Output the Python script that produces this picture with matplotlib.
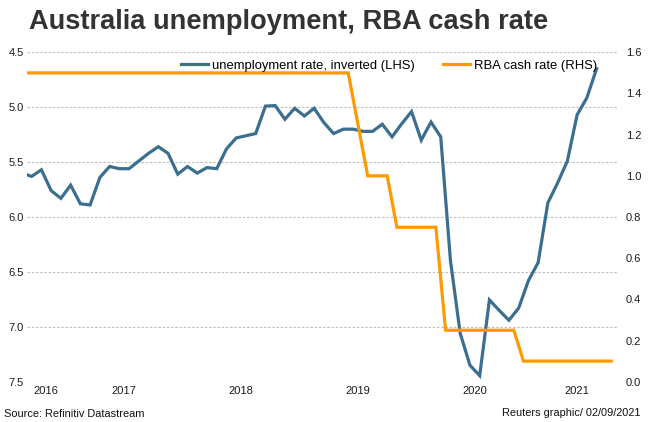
import numpy as np
import matplotlib
matplotlib.use("Agg")
import matplotlib.pyplot as plt

plt.rcParams['font.family'] = ['Liberation Sans', 'DejaVu Sans']

# Monthly data, Aug 2016 .. Aug 2021 (position -1 = Aug 2016, 0 = Sep 2016)
unemployment = [5.60, 5.63, 5.57, 5.76, 5.83,                          # 2016 Aug-Dec
                5.71, 5.88, 5.89, 5.64, 5.54, 5.56, 5.56, 5.49, 5.42, 5.36, 5.42, 5.61,  # 2017
                5.54, 5.60, 5.55, 5.56, 5.38, 5.28, 5.26, 5.24, 4.99, 4.985, 5.11, 5.01,  # 2018
                5.08, 5.01, 5.14, 5.24, 5.20, 5.20, 5.22, 5.22, 5.155, 5.27, 5.15, 5.04,  # 2019
                5.30, 5.135, 5.27, 6.40, 7.06, 7.35, 7.445, 6.755, 6.85, 6.94, 6.83, 6.58,  # 2020
                6.415, 5.87, 5.69, 5.49, 5.07, 4.915, 4.65]           # 2021 Jan-Jul
cash_rate = ([1.5] * 5 +            # 2016 Aug-Dec
             [1.5] * 12 +           # 2017
             [1.5] * 12 +           # 2018
             [1.5, 1.5, 1.5, 1.5, 1.5, 1.25, 1.0, 1.0, 1.0, 0.75, 0.75, 0.75] +  # 2019
             [0.75, 0.75, 0.25, 0.25, 0.25, 0.25, 0.25, 0.25, 0.25, 0.25, 0.1, 0.1] +  # 2020
             [0.1] * 8)             # 2021 Jan-Aug
year_labels = ['2016', '2017', '2018', '2019', '2020', '2021']
year_tick_pos = [1.5, 9.5, 21.5, 33.5, 45.5, 56.0]
left_ticks = [4.5, 5.0, 5.5, 6.0, 6.5, 7.0, 7.5]
right_ticks = [0.0, 0.2, 0.4, 0.6, 0.8, 1.0, 1.2, 1.4, 1.6]

x_unemp = np.arange(len(unemployment)) - 1
x_cash = np.arange(len(cash_rate)) - 1 + 0.5

BLUE = '#3b6e8f'
ORANGE = '#fd9a00'
W, H = 648, 422
fig = plt.figure(figsize=(W / 100, H / 100), dpi=100)
ax = fig.add_axes([27 / W, 1 - 381.7 / H, (618 - 27) / W, (381.7 - 52.3) / H])
ax2 = ax.twinx()

l1, = ax.plot(x_unemp, unemployment, color=BLUE, lw=2.3, solid_joinstyle='miter',
              label='unemployment rate, inverted (LHS)')
l2, = ax2.plot(x_cash, cash_rate, color=ORANGE, lw=2.3, solid_joinstyle='miter',
               label='RBA cash rate (RHS)')

ax.set_xlim(-0.48, 60.2)
ax.set_ylim(7.5, 4.5)
ax2.set_ylim(0, 1.6)
ax.set_yticks(left_ticks)
ax.set_yticklabels([f'{v:.1f}' for v in left_ticks])
ax2.set_yticks(right_ticks)
ax2.set_yticklabels([f'{v:.1f}' for v in right_ticks])
ax.set_xticks(year_tick_pos)
ax.set_xticklabels(year_labels)

for a in (ax, ax2):
    for s in a.spines.values():
        s.set_visible(False)
ax.tick_params(axis='y', length=0, pad=2.2, labelsize=8.0, labelcolor='#1a1a1a')
ax2.tick_params(axis='y', length=0, pad=5.8, labelsize=8.0, labelcolor='#1a1a1a')
ax.tick_params(axis='x', length=0, pad=3.0, labelsize=8.0, labelcolor='#1a1a1a')

ax.grid(axis='y', color='#bdbdbd', lw=0.8, linestyle=(0, (2.2, 1.6)))
ax.set_axisbelow(True)

ax2.legend(handles=[l1, l2], loc='center right', ncol=2, frameon=False,
           bbox_to_anchor=(597 / W, 1 - 65.5 / H), bbox_transform=fig.transFigure,
           borderpad=0, borderaxespad=0, fontsize=9.4, handlelength=2.1,
           handletextpad=0.3, columnspacing=2.1)

fig.text(29 / W, 1 - 29.3 / H, 'Australia unemployment, RBA cash rate',
         fontsize=19.6, fontweight='bold', color='#333333', va='baseline', ha='left')
fig.text(4 / W, 1 - 414 / H, 'Source: Refinitiv Datastream', fontsize=7.9,
         color='#111111', va='center', ha='left')
fig.text(640 / W, 1 - 412.7 / H, 'Reuters graphic/ 02/09/2021', fontsize=7.9,
         color='#111111', va='center', ha='right')

fig.savefig('out.png', dpi=100)
